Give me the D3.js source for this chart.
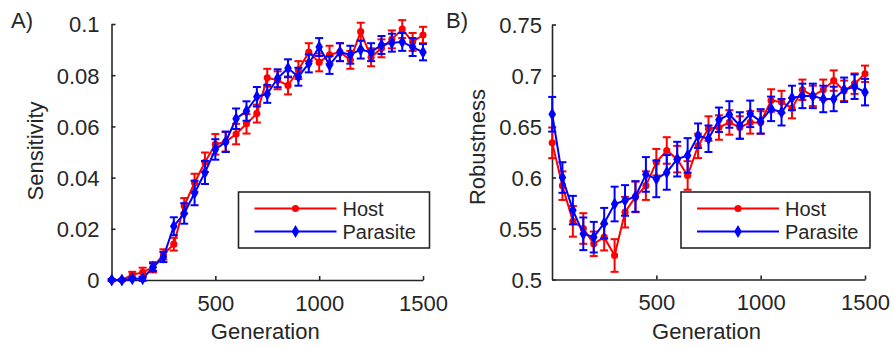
<!DOCTYPE html>
<html>
<head>
<meta charset="utf-8">
<script src="https://cdn.jsdelivr.net/npm/d3@7"></script>
<style>
  body { margin: 0; background: #fff; }
  text { font-family: "Liberation Sans", Arial, sans-serif; fill: #262626; }
</style>
</head>
<body>
<div class="chart"></div>
<script>
// generations sampled every 50
var generations = [1, 50, 100, 150, 200, 250, 300, 350, 400, 450, 500, 550, 600, 650, 700, 750,
  800, 850, 900, 950, 1000, 1050, 1100, 1150, 1200, 1250, 1300, 1350, 1400, 1450, 1500];

// panel A - sensitivity
var hostSens = [0, 0, 0.002, 0.003, 0.005, 0.010, 0.014, 0.029, 0.038, 0.046, 0.053, 0.054, 0.057, 0.061, 0.065, 0.079,
  0.078, 0.076, 0.082, 0.089, 0.085, 0.088, 0.089, 0.086, 0.097, 0.087, 0.0905, 0.094, 0.098, 0.093, 0.0957];
var hostSensErr = [0.0003, 0.0003, 0.0012, 0.0018, 0.002, 0.002, 0.0025, 0.003, 0.0035, 0.0038, 0.004, 0.0038, 0.004, 0.0038, 0.0035, 0.0035,
  0.0035, 0.0035, 0.0035, 0.0035, 0.0035, 0.0035, 0.0035, 0.0035, 0.0035, 0.0035, 0.0035, 0.0035, 0.0035, 0.0035, 0.0032];
var parSens = [0, 0, 0.0005, 0.0005, 0.005, 0.009, 0.021, 0.026, 0.034, 0.042, 0.051, 0.054, 0.063, 0.066, 0.0716, 0.0727,
  0.0788, 0.0827, 0.0794, 0.0846, 0.091, 0.084, 0.089, 0.088, 0.090, 0.089, 0.0918, 0.0927, 0.093, 0.091, 0.089];
var parSensErr = [0.0003, 0.0003, 0.0005, 0.0008, 0.0015, 0.002, 0.0035, 0.004, 0.0048, 0.0045, 0.004, 0.004, 0.004, 0.0038, 0.0038, 0.0035,
  0.0035, 0.0035, 0.0035, 0.0035, 0.0035, 0.0035, 0.0035, 0.0035, 0.0035, 0.0035, 0.0035, 0.0035, 0.0035, 0.0035, 0.0032];

// panel B - robustness
var hostRob = [0.634, 0.592, 0.557, 0.550, 0.535, 0.5415, 0.5235, 0.566, 0.581, 0.592, 0.615, 0.6265, 0.618, 0.602, 0.631, 0.648,
  0.649, 0.654, 0.649, 0.654, 0.654, 0.6755, 0.674, 0.668, 0.686, 0.680, 0.686, 0.695, 0.685, 0.692, 0.7017];
var hostRobErr = [0.015, 0.014, 0.015, 0.015, 0.012, 0.013, 0.016, 0.015, 0.015, 0.014, 0.013, 0.013, 0.013, 0.014, 0.012, 0.012,
  0.012, 0.012, 0.011, 0.011, 0.011, 0.011, 0.011, 0.010, 0.010, 0.010, 0.010, 0.010, 0.010, 0.010, 0.008];
var parRob = [0.662, 0.600, 0.568, 0.5448, 0.5415, 0.5552, 0.574, 0.5775, 0.5814, 0.603, 0.5987, 0.605, 0.618, 0.6216, 0.641, 0.638,
  0.6566, 0.6618, 0.651, 0.6624, 0.655, 0.6673, 0.664, 0.678, 0.680, 0.680, 0.677, 0.677, 0.686, 0.689, 0.6837];
var parRobErr = [0.017, 0.015, 0.014, 0.016, 0.015, 0.015, 0.017, 0.015, 0.015, 0.017, 0.018, 0.017, 0.017, 0.017, 0.012, 0.013,
  0.012, 0.013, 0.013, 0.013, 0.012, 0.012, 0.013, 0.012, 0.012, 0.012, 0.013, 0.012, 0.012, 0.012, 0.013];

var xTicks = [500, 1000, 1500];
var sensTicks = [0, 0.02, 0.04, 0.06, 0.08, 0.1];
var robTicks = [0.5, 0.55, 0.6, 0.65, 0.7, 0.75];
var seriesNames = ["Host", "Parasite"];
var red = "#ff0000", blue = "#0000ff", ink = "#262626";
var fs = "22px";

var svg = d3.select(".chart").append("svg")
  .attr("width", 894)
  .attr("height", 348);

function drawPanel(opt) {
  var x = d3.scaleLinear().domain([0, 1500]).range([opt.left, opt.right]);
  var y = d3.scaleLinear().domain(opt.yDomain).range([opt.bottom, opt.top]);
  var g = svg.append("g");

  // axes, ticks pointing inward like matlab
  var xAxis = g.append("g").attr("transform", "translate(0," + opt.bottom + ")")
    .call(d3.axisBottom(x).tickValues(xTicks).tickSizeInner(-4).tickSizeOuter(0).tickPadding(15)
      .tickFormat(d3.format("d")));
  var yAxis = g.append("g").attr("transform", "translate(" + opt.left + ",0)")
    .call(d3.axisLeft(y).tickValues(opt.yTicks).tickSizeInner(-4).tickSizeOuter(0).tickPadding(opt.yPad)
      .tickFormat(function(d){ return String(+d.toFixed(3)); }));
  [xAxis, yAxis].forEach(function(a){
    a.select(".domain").attr("stroke", ink).attr("stroke-width", 1.6);
    a.selectAll(".tick line").attr("stroke", ink).attr("stroke-width", 1.6);
    a.selectAll(".tick text").style("font-size", fs).attr("fill", ink);
  });
  yAxis.selectAll(".tick text").attr("dy", "0.36em");

  // series: red first, blue on top
  var sets = [
    {vals: opt.host, err: opt.hostErr, color: red, sym: d3.symbolCircle, size: 40},
    {vals: opt.par, err: opt.parErr, color: blue, sym: d3.symbolDiamond, size: 50}
  ];
  sets.forEach(function(s){
    var pts = generations.map(function(gen, i){ return {g: gen, v: s.vals[i], e: s.err[i]}; });
    var line = d3.line().x(function(d){ return x(d.g); }).y(function(d){ return y(d.v); });
    g.append("path").datum(pts)
      .attr("d", line)
      .attr("fill", "none")
      .attr("stroke", s.color)
      .attr("stroke-width", 2);
    var eb = g.selectAll(null).data(pts).enter().append("g");
    eb.append("line")
      .attr("x1", function(d){ return x(d.g); }).attr("x2", function(d){ return x(d.g); })
      .attr("y1", function(d){ return y(d.v - d.e); }).attr("y2", function(d){ return y(d.v + d.e); })
      .attr("stroke", s.color).attr("stroke-width", 2);
    [-1, 1].forEach(function(sign){
      eb.append("line")
        .attr("x1", function(d){ return x(d.g) - 4; }).attr("x2", function(d){ return x(d.g) + 4; })
        .attr("y1", function(d){ return y(d.v + sign * d.e); }).attr("y2", function(d){ return y(d.v + sign * d.e); })
        .attr("stroke", s.color).attr("stroke-width", 2);
    });
    g.selectAll(null).data(pts).enter().append("path")
      .attr("d", d3.symbol().type(s.sym).size(s.size))
      .attr("transform", function(d){ return "translate(" + x(d.g) + "," + y(d.v) + ")"; })
      .attr("fill", s.color);
  });

  // axis labels
  g.append("text")
    .attr("x", (opt.left + opt.right) / 2 - 2).attr("y", 339)
    .attr("text-anchor", "middle").style("font-size", fs)
    .text("Generation");
  g.append("text")
    .attr("transform", "translate(" + opt.yLabelX + "," + opt.yLabelY + ") rotate(-90)")
    .attr("text-anchor", "middle").style("font-size", fs)
    .text(opt.yLabel);
  g.append("text")
    .attr("x", opt.tagX).attr("y", 28)
    .style("font-size", fs)
    .text(opt.tag);

  // legend
  var lg = g.append("g");
  lg.append("rect")
    .attr("x", opt.legX).attr("y", 192)
    .attr("width", opt.legW).attr("height", 56)
    .attr("fill", "#fff").attr("stroke", ink).attr("stroke-width", 1.6);
  [red, blue].forEach(function(c, i){
    var yy = 208.5 + i * 23;
    lg.append("line")
      .attr("x1", opt.legX + 16).attr("x2", opt.legX + 98)
      .attr("y1", yy).attr("y2", yy)
      .attr("stroke", c).attr("stroke-width", 2);
    lg.append("path")
      .attr("d", d3.symbol().type(i === 0 ? d3.symbolCircle : d3.symbolDiamond).size(i === 0 ? 40 : 50))
      .attr("transform", "translate(" + (opt.legX + 57) + "," + yy + ")")
      .attr("fill", c);
    lg.append("text")
      .attr("x", opt.legX + 104).attr("y", yy + 7)
      .style("font-size", "20px")
      .text(seriesNames[i]);
  });
}

drawPanel({
  left: 111.5, right: 423, top: 24, bottom: 280,
  yDomain: [0, 0.1], yTicks: sensTicks, yPad: 12,
  host: hostSens, hostErr: hostSensErr, par: parSens, parErr: parSensErr,
  yLabel: "Sensitivity", yLabelX: 43, yLabelY: 151, tag: "A)", tagX: 11,
  legX: 238.5, legW: 191
});

drawPanel({
  left: 552, right: 865, top: 24.5, bottom: 279.5,
  yDomain: [0.5, 0.75], yTicks: robTicks, yPad: 10,
  host: hostRob, hostErr: hostRobErr, par: parRob, parErr: parRobErr,
  yLabel: "Robustness", yLabelX: 485, yLabelY: 147, tag: "B)", tagX: 446,
  legX: 681, legW: 189
});
</script>
</body>
</html>
